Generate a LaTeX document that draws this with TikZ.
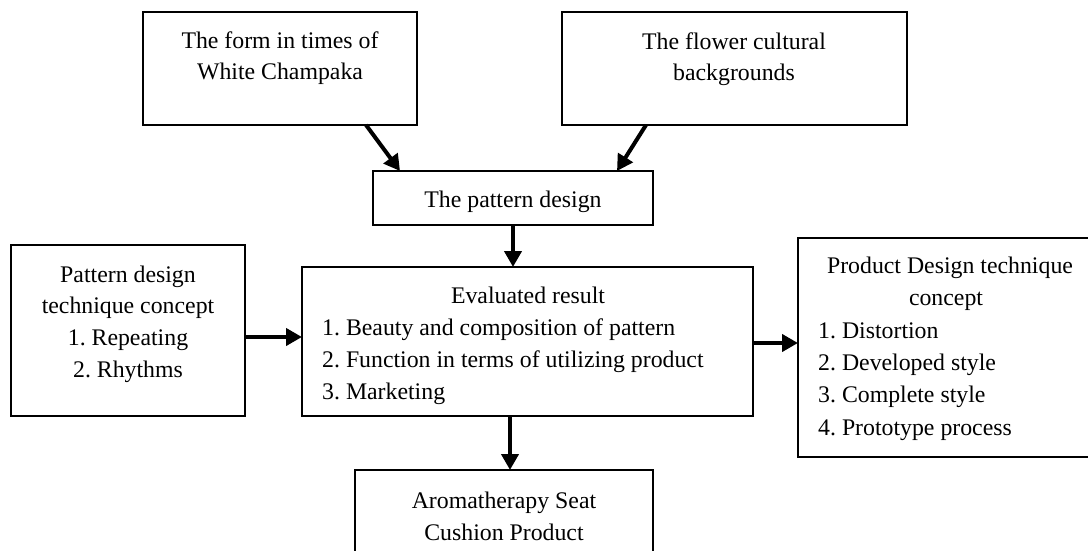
\documentclass[tikz,border=0pt]{standalone}
\usepackage{fontspec}
\setmainfont{Liberation Serif}
\frenchspacing
\usetikzlibrary{arrows.meta,calc}
\tikzset{
  box/.style={draw=black, line width=2pt, rectangle, inner sep=0pt, outer sep=0pt},
  arr/.style={line width=4pt, -{Triangle[length=16pt,width=17pt]}},
  txt/.style={anchor=base, inner sep=0pt, font=\fontsize{23.8}{32}\selectfont},
  lst/.style={anchor=base west, inner sep=0pt, font=\fontsize{23.8}{32}\selectfont}
}
\begin{document}
\begin{tikzpicture}[x=1pt,y=-1pt]
\useasboundingbox (0,0) rectangle (1088,551);
\fill[white] (0,0) rectangle (1088,551);
\clip (0,0) rectangle (1088,551);
% boxes
\node[box, minimum width=274pt, minimum height=113pt] (A) at (280,68.5) {};
\node[box, minimum width=345pt, minimum height=113pt] (B) at (734.5,68.5) {};
\node[box, minimum width=280pt, minimum height=54pt] (P) at (513,198) {};
\node[box, minimum width=234pt, minimum height=171pt] (L) at (128,330.5) {};
\node[box, minimum width=451pt, minimum height=149pt] (C) at (527.5,341.5) {};
\node[box, minimum width=300pt, minimum height=219pt] (R) at (948,347.5) {};
\node[box, minimum width=298pt, minimum height=100pt] (D) at (504,520) {};
% texts
\node[txt] (a1) at (280,49) {The form in times of};
\node[txt] (a2) at (280,80) {White Champaka};
\node[txt] (b1) at (734,50) {The flower cultural};
\node[txt] (b2) at (734,81) {backgrounds};
\node[txt] (p1) at (513,207) {The pattern design};
\node[txt] (l1) at (128,282) {Pattern design};
\node[txt] (l2) at (128,313) {technique concept};
\node[txt] (l3) at (128,345) {1. Repeating};
\node[txt] (l4) at (128,377) {2. Rhythms};
\node[txt] (c0) at (528,303) {Evaluated result};
\node[lst] (c1) at (322,335) {1. Beauty and composition of pattern};
\node[lst] (c2) at (322,367) {2. Function in terms of utilizing product};
\node[lst] (c3) at (322,399) {3. Marketing};
\node[txt] (r0) at (950,273) {Product Design technique};
\node[txt] (r1) at (946,305) {concept};
\node[lst] (r2) at (818,338) {1. Distortion};
\node[lst] (r3) at (818,370) {2. Developed style};
\node[lst] (r4) at (818,402) {3. Complete style};
\node[lst] (r5) at (818,435) {4. Prototype process};
\node[txt] (d1) at (504,508) {Aromatherapy Seat};
\node[txt] (d2) at (504,540) {Cushion Product};
% connectors
\draw[arr] ([xshift=86pt]A.south) -- ([xshift=-113pt]P.north);
\draw[arr] ([xshift=-88.5pt]B.south) -- ([xshift=104pt]P.north);
\draw[arr] (P.south) -- (P.south |- C.north);
\coordinate (lo) at ([yshift=-6.5pt]L.east);
\draw[arr] (lo) -- (lo -| C.west);
\coordinate (co) at ([yshift=-1.5pt]C.east);
\draw[arr] (co) -- (co -| R.west);
\coordinate (cb) at ([xshift=-17.5pt]C.south);
\draw[arr] (cb) -- (cb |- D.north);
\end{tikzpicture}
\end{document}
